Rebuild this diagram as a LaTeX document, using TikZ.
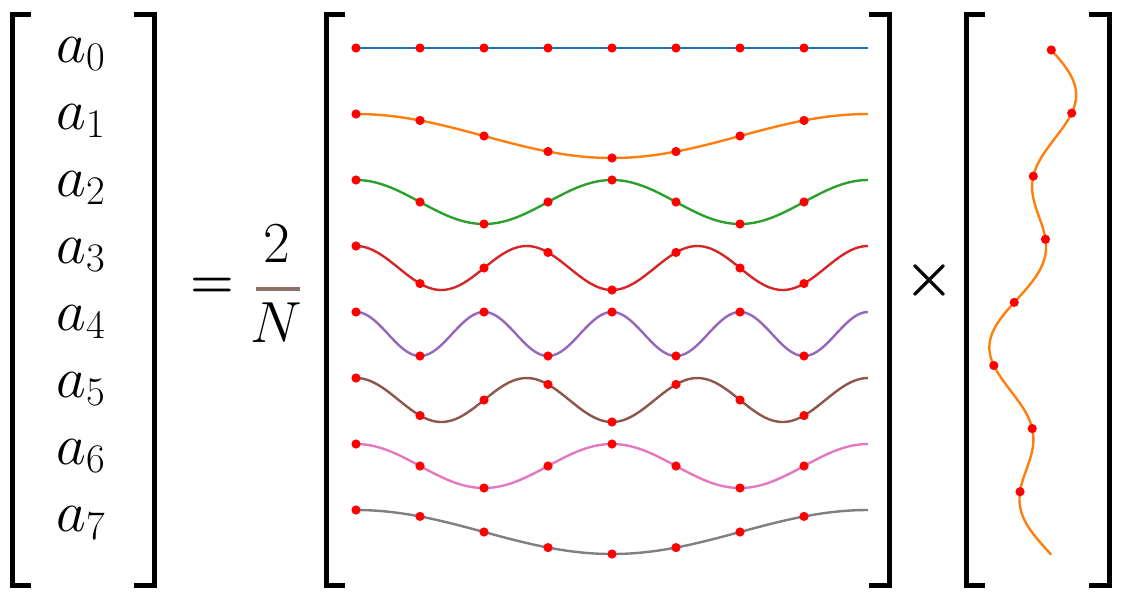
\RequirePackage{fix-cm}
\documentclass[tikz,border=0pt]{standalone}
\usepackage{tikz}
\usetikzlibrary{positioning}

\definecolor{tabblue}{HTML}{1F77B4}
\definecolor{taborange}{HTML}{FF7F0E}
\definecolor{tabgreen}{HTML}{2CA02C}
\definecolor{tabred}{HTML}{D62728}
\definecolor{tabpurple}{HTML}{9467BD}
\definecolor{tabbrown}{HTML}{8C564B}
\definecolor{tabpink}{HTML}{E377C2}
\definecolor{tabgray}{HTML}{7F7F7F}
\definecolor{barbrown}{RGB}{140,112,105}

\begin{document}
\begin{tikzpicture}[
  x=0.5pt, y=-0.5pt,
  brk/.style={line width=2.5pt, line join=miter},
  wave/.style={line width=1.2pt},
  sample/.style={fill=red},
  lbl/.style={anchor=base west, inner sep=0pt, font=\fontsize{29}{34}\selectfont},
  op/.style={anchor=base, inner sep=0pt, font=\fontsize{28}{32}\selectfont\boldmath}
]
\useasboundingbox (0,0) rectangle (1123,600);

% brackets
\foreach \l/\r in {12/154, 326/889, 966/1109} {
  \draw[brk] ({\l+19},14) -- (\l,14) -- (\l,585) -- ({\l+19},585);
  \draw[brk] ({\r-20},14) -- (\r,14) -- (\r,585) -- ({\r-20},585);
}

% coefficients
\foreach \k in {0,...,7}
  \node[lbl] (a\k) at (56,{62+67*\k}) {$a_{\k}$};

\node[op, font=\fontsize{25}{30}\selectfont\boldmath] (eq) at (212,297) {$=$};
\node[lbl, anchor=base] (two) at (277,262) {$2$};
\node[lbl, anchor=base] (enn) at (276,342) {$N$};
\draw[line width=2pt, barbrown] (256,289) -- (300,289);

% cosine basis
\foreach \k/\m/\col in {0/0/tabblue, 1/1/taborange, 2/2/tabgreen, 3/3/tabred,
                        4/4/tabpurple, 5/3/tabbrown, 6/2/tabpink, 7/1/tabgray} {
  \draw[wave, \col] plot[domain=0:8, samples=161] ({356+64*\x},{70+66*\k-22*cos(45*\m*\x)});
  \foreach \n in {0,...,7}
    \fill[sample] ({356+64*\n},{70+66*\k-22*cos(45*\k*\n)}) circle (2.3pt);
}

\node[op] (times) at (930,294) {$\times$};

% signal
\draw[wave, taborange] plot[domain=0:8, samples=161]
  ({1032.75+26.2*sin(45*(\x+1))+18*sin(135*\x)},{50+63.1*\x});
\foreach \n in {0,...,7}
  \fill[sample] ({1032.75+26.2*sin(45*(\n+1))+18*sin(135*\n)},{50+63.1*\n}) circle (2.3pt);
\end{tikzpicture}
\end{document}
